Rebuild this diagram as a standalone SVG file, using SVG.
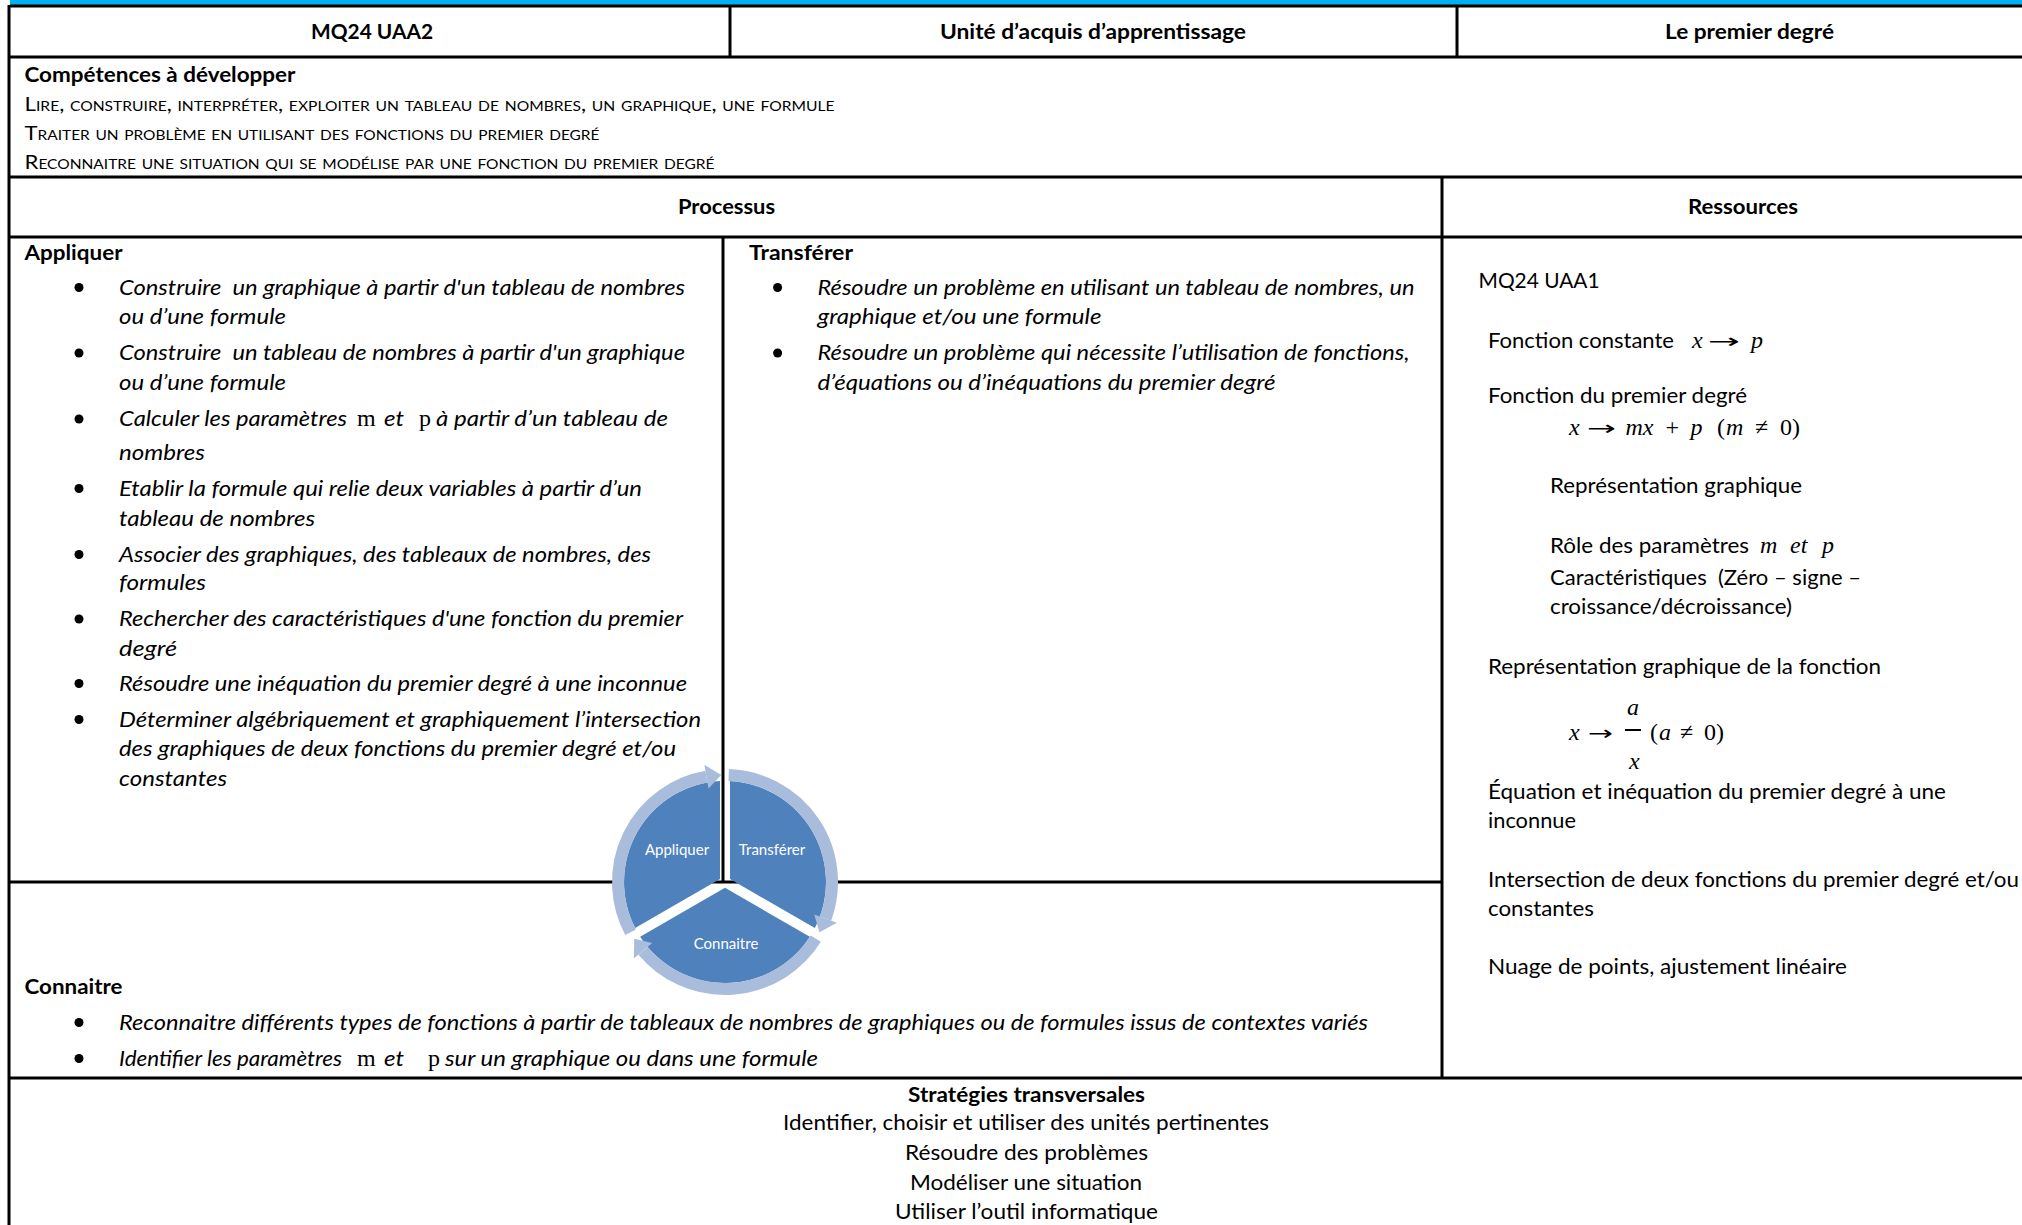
<svg xmlns="http://www.w3.org/2000/svg" width="2022" height="1225" viewBox="0 0 2022 1225">
<style>
.f{font-family:Lato,"Open Sans","Liberation Sans",sans-serif;font-size:21px;fill:#000;white-space:pre}
.b{font-weight:700}
.i{font-style:italic}
.sc{font-variant:small-caps;font-size:20px}
.mi{font-family:"Liberation Serif",serif;font-style:italic;font-size:24px;fill:#000}
.mu{font-family:"Liberation Serif",serif;font-size:24px;fill:#000}
.ar{font-family:"DejaVu Sans",sans-serif;font-size:20px;fill:#000}
.ln{stroke:#000;stroke-width:3;fill:none}
.lbl{font-family:Lato,"Open Sans","Liberation Sans",sans-serif;font-size:15px;fill:#fff;text-anchor:middle}
.sec{fill:#4F81BD}
.ring{stroke:#A9BCDC;stroke-width:12;fill:none}
.head{fill:#A9BCDC}
</style>
<defs>
<path id="sector" class="sec" d="M720,879.11 L635.14,928.11 A101,101 0 0 1 720,781.12 Z"/>
<g id="ringarrow">
<path class="ring" d="M630.53,932.24 A107,107 0 0 1 706.42,776.63"/>
<polygon class="head" points="708.50,788.44 704.34,764.81 721.27,775.07"/>
</g>
</defs>
<rect x="0" y="0" width="2022" height="1225" fill="#fff"/>
<rect x="10" y="0" width="2012" height="6" fill="#00B0F0"/>

<g id="grid">
<line class="ln" x1="10" y1="6" x2="2022" y2="6"/>
<line class="ln" x1="9" y1="5" x2="9" y2="1225"/>
<line class="ln" x1="730" y1="6" x2="730" y2="57"/>
<line class="ln" x1="1457" y1="6" x2="1457" y2="57"/>
<line class="ln" x1="9" y1="57" x2="2022" y2="57"/>
<line class="ln" x1="9" y1="177" x2="2022" y2="177"/>
<line class="ln" x1="1442" y1="177" x2="1442" y2="1078"/>
<line class="ln" x1="9" y1="237" x2="2022" y2="237"/>
<line class="ln" x1="723" y1="237" x2="723" y2="882"/>
<line class="ln" x1="9" y1="882" x2="1442" y2="882"/>
<line class="ln" x1="9" y1="1078" x2="2022" y2="1078"/>
</g>

<g id="header">
<text class="f b" x="311" y="39" textLength="122" lengthAdjust="spacingAndGlyphs">MQ24 UAA2</text>
<text class="f b" x="940" y="39" textLength="306" lengthAdjust="spacingAndGlyphs">Unité d’acquis d’apprentissage</text>
<text class="f b" x="1665" y="39" textLength="169" lengthAdjust="spacingAndGlyphs">Le premier degré</text>
</g>

<g id="competences">
<text class="f b" x="24.5" y="82" textLength="271" lengthAdjust="spacingAndGlyphs">Compétences à développer</text>
<text class="f sc" x="24.5" y="111" textLength="810" lengthAdjust="spacingAndGlyphs">Lire, construire, interpréter, exploiter un tableau de nombres, un graphique, une formule</text>
<text class="f sc" x="24.5" y="139.5" textLength="575" lengthAdjust="spacingAndGlyphs">Traiter un problème en utilisant des fonctions du premier degré</text>
<text class="f sc" x="24.5" y="169" textLength="690" lengthAdjust="spacingAndGlyphs">Reconnaitre une situation qui se modélise par une fonction du premier degré</text>
</g>

<g id="processus-header">
<text class="f b" x="678" y="213.5" textLength="97" lengthAdjust="spacingAndGlyphs">Processus</text>
<text class="f b" x="1688" y="213.5" textLength="110" lengthAdjust="spacingAndGlyphs">Ressources</text>
</g>

<g id="appliquer">
<text class="f b" x="24.5" y="260" textLength="98" lengthAdjust="spacingAndGlyphs">Appliquer</text>
<circle cx="79" cy="287.5" r="4.5"/>
<text class="f i" x="119" y="294.5" textLength="566" lengthAdjust="spacingAndGlyphs">Construire  un graphique à partir d'un tableau de nombres</text>
<text class="f i" x="119" y="324" textLength="167" lengthAdjust="spacingAndGlyphs">ou d’une formule</text>
<circle cx="79" cy="353" r="4.5"/>
<text class="f i" x="119" y="360" textLength="566" lengthAdjust="spacingAndGlyphs">Construire  un tableau de nombres à partir d'un graphique</text>
<text class="f i" x="119" y="390" textLength="167" lengthAdjust="spacingAndGlyphs">ou d’une formule</text>
<circle cx="79" cy="419" r="4.5"/>
<text class="f i" x="119" y="426" textLength="228" lengthAdjust="spacingAndGlyphs">Calculer les paramètres</text>
<text class="mu" x="357" y="426">m</text>
<text class="f i" x="384" y="426" textLength="20" lengthAdjust="spacingAndGlyphs">et</text>
<text class="mu" x="419" y="426">p</text>
<text class="f i" x="436" y="426" textLength="232" lengthAdjust="spacingAndGlyphs">à partir d’un tableau de</text>
<text class="f i" x="119" y="459.5" textLength="86" lengthAdjust="spacingAndGlyphs">nombres</text>
<circle cx="79" cy="488.5" r="4.5"/>
<text class="f i" x="119" y="495.5" textLength="523" lengthAdjust="spacingAndGlyphs">Etablir la formule qui relie deux variables à partir d’un</text>
<text class="f i" x="119" y="525.5" textLength="196" lengthAdjust="spacingAndGlyphs">tableau de nombres</text>
<circle cx="79" cy="554.5" r="4.5"/>
<text class="f i" x="119" y="561.5" textLength="532" lengthAdjust="spacingAndGlyphs">Associer des graphiques, des tableaux de nombres, des</text>
<text class="f i" x="119" y="590" textLength="87" lengthAdjust="spacingAndGlyphs">formules</text>
<circle cx="79" cy="619" r="4.5"/>
<text class="f i" x="119" y="626" textLength="564" lengthAdjust="spacingAndGlyphs">Rechercher des caractéristiques d'une fonction du premier</text>
<text class="f i" x="119" y="655.5" textLength="58" lengthAdjust="spacingAndGlyphs">degré</text>
<circle cx="79" cy="683.5" r="4.5"/>
<text class="f i" x="119" y="690.5" textLength="568" lengthAdjust="spacingAndGlyphs">Résoudre une inéquation du premier degré à une inconnue</text>
<circle cx="79" cy="719.5" r="4.5"/>
<text class="f i" x="119" y="726.5" textLength="582" lengthAdjust="spacingAndGlyphs">Déterminer algébriquement et graphiquement l’intersection</text>
<text class="f i" x="119" y="756" textLength="557" lengthAdjust="spacingAndGlyphs">des graphiques de deux fonctions du premier degré et/ou</text>
<text class="f i" x="119" y="786" textLength="108" lengthAdjust="spacingAndGlyphs">constantes</text>
</g>

<g id="transferer">
<text class="f b" x="749" y="260" textLength="104" lengthAdjust="spacingAndGlyphs">Transférer</text>
<circle cx="777.6" cy="287.5" r="4.5"/>
<text class="f i" x="817.5" y="294.5" textLength="597" lengthAdjust="spacingAndGlyphs">Résoudre un problème en utilisant un tableau de nombres, un</text>
<text class="f i" x="817.5" y="324" textLength="284" lengthAdjust="spacingAndGlyphs">graphique et/ou une formule</text>
<circle cx="777.6" cy="353" r="4.5"/>
<text class="f i" x="817.5" y="360" textLength="592" lengthAdjust="spacingAndGlyphs">Résoudre un problème qui nécessite l’utilisation de fonctions,</text>
<text class="f i" x="817.5" y="390" textLength="458" lengthAdjust="spacingAndGlyphs">d’équations ou d’inéquations du premier degré</text>
</g>

<g id="ressources">
<text class="f" x="1478.5" y="288" textLength="121" lengthAdjust="spacingAndGlyphs">MQ24 UAA1</text>
<text class="f" x="1488" y="347.5" textLength="186" lengthAdjust="spacingAndGlyphs">Fonction constante</text>
<text class="mi" x="1692" y="347.5">x</text>
<text class="ar" x="1708" y="347.5" textLength="32" lengthAdjust="spacingAndGlyphs">→</text>
<text class="mi" x="1751" y="347.5">p</text>
<text class="f" x="1488" y="403" textLength="259" lengthAdjust="spacingAndGlyphs">Fonction du premier degré</text>
<text class="mi" x="1569" y="435">x</text>
<text class="ar" x="1587" y="435" textLength="29" lengthAdjust="spacingAndGlyphs">→</text>
<text class="mi" x="1625.5" y="435">mx</text>
<text class="mu" x="1665.5" y="435">+</text>
<text class="mi" x="1690.5" y="435">p</text>
<text class="mu" x="1717" y="435">(</text>
<text class="mi" x="1726" y="435">m</text>
<text class="mu" x="1755" y="435">≠</text>
<text class="mu" x="1780" y="435">0)</text>
<text class="f" x="1550" y="493" textLength="252" lengthAdjust="spacingAndGlyphs">Représentation graphique</text>
<text class="f" x="1550" y="552.5" textLength="199" lengthAdjust="spacingAndGlyphs">Rôle des paramètres</text>
<text class="mi" x="1760" y="552.5">m</text>
<text class="mi" x="1790" y="552.5">et</text>
<text class="mi" x="1822" y="552.5">p</text>
<text class="f" x="1550" y="584.5" textLength="311" lengthAdjust="spacingAndGlyphs">Caractéristiques  (Zéro – signe –</text>
<text class="f" x="1550" y="614" textLength="242" lengthAdjust="spacingAndGlyphs">croissance/décroissance)</text>
<text class="f" x="1488" y="673.5" textLength="393" lengthAdjust="spacingAndGlyphs">Représentation graphique de la fonction</text>
<text class="mi" x="1627" y="714.5">a</text>
<text class="mi" x="1569" y="740">x</text>
<text class="ar" x="1588" y="740" textLength="25" lengthAdjust="spacingAndGlyphs">→</text>
<rect x="1625" y="729" width="16" height="2" fill="#000"/>
<text class="mu" x="1650" y="740">(</text>
<text class="mi" x="1659" y="740">a</text>
<text class="mu" x="1680" y="740">≠</text>
<text class="mu" x="1704" y="740">0)</text>
<text class="mi" x="1629" y="768.5">x</text>
<text class="f" x="1488" y="799" textLength="458" lengthAdjust="spacingAndGlyphs">Équation et inéquation du premier degré à une</text>
<text class="f" x="1488" y="828" textLength="88" lengthAdjust="spacingAndGlyphs">inconnue</text>
<text class="f" x="1488" y="886.5" textLength="531" lengthAdjust="spacingAndGlyphs">Intersection de deux fonctions du premier degré et/ou</text>
<text class="f" x="1488" y="916" textLength="106" lengthAdjust="spacingAndGlyphs">constantes</text>
<text class="f" x="1488" y="974" textLength="359" lengthAdjust="spacingAndGlyphs">Nuage de points, ajustement linéaire</text>
</g>

<g id="connaitre">
<text class="f b" x="24.5" y="994" textLength="98" lengthAdjust="spacingAndGlyphs">Connaitre</text>
<circle cx="79" cy="1022.5" r="4.5"/>
<text class="f i" x="119" y="1029.5" textLength="1249" lengthAdjust="spacingAndGlyphs">Reconnaitre différents types de fonctions à partir de tableaux de nombres de graphiques ou de formules issus de contextes variés</text>
<circle cx="79" cy="1058.5" r="4.5"/>
<text class="f i" x="119" y="1065.5" textLength="223" lengthAdjust="spacingAndGlyphs">Identifier les paramètres</text>
<text class="mu" x="357" y="1065.5">m</text>
<text class="f i" x="384" y="1065.5" textLength="20" lengthAdjust="spacingAndGlyphs">et</text>
<text class="mu" x="428" y="1065.5">p</text>
<text class="f i" x="445" y="1065.5" textLength="373" lengthAdjust="spacingAndGlyphs">sur un graphique ou dans une formule</text>
</g>

<g id="strategies">
<text class="f b" x="908" y="1102" textLength="237" lengthAdjust="spacingAndGlyphs">Stratégies transversales</text>
<text class="f" x="783" y="1130" textLength="486" lengthAdjust="spacingAndGlyphs">Identifier, choisir et utiliser des unités pertinentes</text>
<text class="f" x="905" y="1160" textLength="243" lengthAdjust="spacingAndGlyphs">Résoudre des problèmes</text>
<text class="f" x="910" y="1189.5" textLength="232" lengthAdjust="spacingAndGlyphs">Modéliser une situation</text>
<text class="f" x="895" y="1219" textLength="263" lengthAdjust="spacingAndGlyphs">Utiliser l’outil informatique</text>
</g>

<g id="cycle-appliquer">
<use href="#sector"/>
<text class="lbl" x="677" y="855">Appliquer</text>
</g>
<g id="cycle-transferer">
<use href="#sector" transform="rotate(120 725 882)"/>
<text class="lbl" x="772" y="855">Transférer</text>
</g>
<g id="cycle-connaitre">
<use href="#sector" transform="rotate(240 725 882)"/>
<text class="lbl" x="726" y="948.5">Connaitre</text>
</g>

<g id="connectors">
<use href="#ringarrow"/>
<use href="#ringarrow" transform="rotate(120 725 882)"/>
<use href="#ringarrow" transform="rotate(240 725 882)"/>
</g>
</svg>
